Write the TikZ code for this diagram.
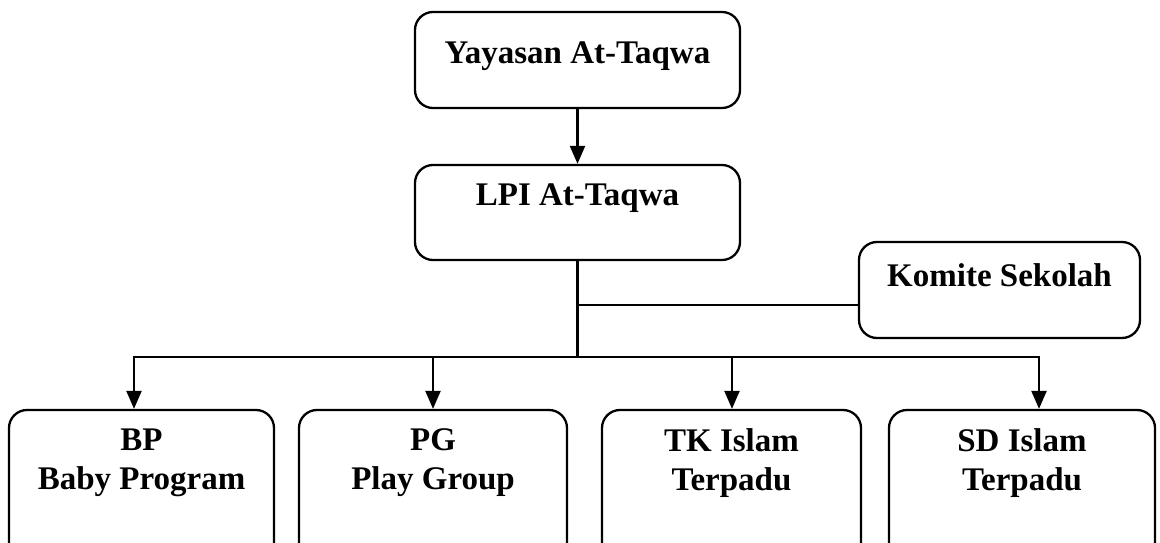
\documentclass[tikz,border=0pt]{standalone}
\usepackage{fontspec}
\setmainfont{Liberation Serif}
\usetikzlibrary{arrows.meta,calc}
\begin{document}
\begin{tikzpicture}[x=1pt,y=-1pt,
  box/.style={draw=black, line width=2.3pt, rounded corners=18pt, inner sep=0pt},
  lbl/.style={font=\fontsize{33}{39}\selectfont\bfseries, align=center, inner sep=0pt, anchor=center},
  conn/.style={line width=2.3pt},
  arr/.style={conn, -{Triangle[length=18pt,width=15pt]}}]
\useasboundingbox (0,0) rectangle (1160,543);
\clip (0,0) rectangle (1160,543);
\fill[white] (0,0) rectangle (1160,543);
% boxes
\node[box, minimum width=325pt, minimum height=96pt] (yay) at (577.5,60) {};
\node[box, minimum width=325pt, minimum height=95pt] (lpi) at (577.5,212.5) {};
\node[box, minimum width=281pt, minimum height=96pt] (kom) at (999.5,290) {};
\node[box, minimum width=265pt, minimum height=160pt] (bp) at (141.5,490) {};
\node[box, minimum width=268pt, minimum height=160pt] (pg) at (433,490) {};
\node[box, minimum width=259pt, minimum height=160pt] (tk) at (731.5,490) {};
\node[box, minimum width=266pt, minimum height=160pt] (sd) at (1022,490) {};
% labels
\node[lbl] (tyay) at ($(yay.north)+(0,45)$) {Yayasan At-Taqwa};
\node[lbl] (tlpi) at ($(lpi.north)+(0,34)$) {LPI At-Taqwa};
\node[lbl] (tkom) at ($(kom.north)+(0,34)$) {Komite Sekolah};
\node[lbl, anchor=north] (tbp) at ($(bp.north)+(0,20)$) {BP\\Baby Program};
\node[lbl, anchor=north] (tpg) at ($(pg.north)+(0,20)$) {PG\\Play Group};
\node[lbl, anchor=north] (ttk) at ($(tk.north)+(0,20)$) {TK Islam\\Terpadu};
\node[lbl, anchor=north] (tsd) at ($(sd.north)+(0,20)$) {SD Islam\\Terpadu};
% junction coordinates
\coordinate (jb) at (577.5,357);
\coordinate (kj) at (577.5,305);
\coordinate (b1) at (134,357);
\coordinate (b2) at (433,357);
\coordinate (b3) at (732,357);
\coordinate (b4) at (1039,357);
% connectors
\draw[arr] (yay.south) -- (lpi.north);
\draw[conn] (lpi.south) -- (jb);
\draw[conn] (kj) -- (kj -| kom.west);
\draw[arr] (jb) -- (b1) -- (b1 |- bp.north);
\draw[arr] (jb) -- (b4) -- (b4 |- sd.north);
\draw[arr] (b2) -- (b2 |- pg.north);
\draw[arr] (b3) -- (b3 |- tk.north);
\end{tikzpicture}
\end{document}
